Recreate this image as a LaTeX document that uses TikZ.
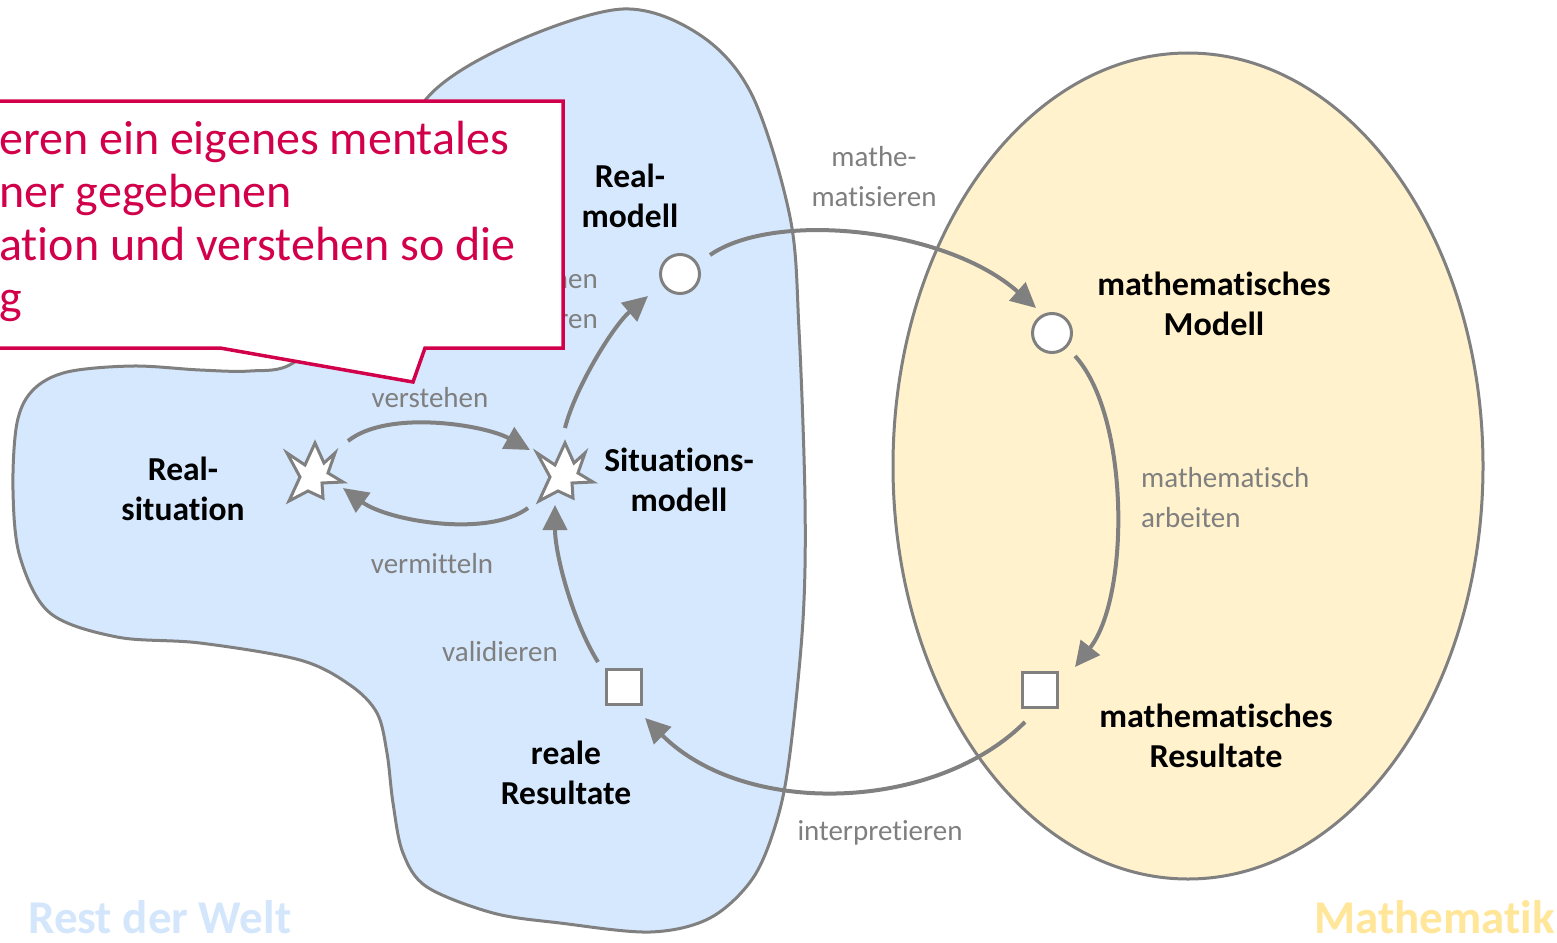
\documentclass[tikz,border=0pt]{standalone}
\usepackage{fontspec}
\setmainfont{Carlito}[Ligatures=NoCommon]
\usetikzlibrary{arrows.meta,calc}
\definecolor{worldfill}{HTML}{D6E8FD}
\definecolor{mathfill}{HTML}{FFF2CC}
\definecolor{edgegray}{HTML}{808080}
\definecolor{labelgray}{HTML}{7F7F7F}
\definecolor{alertred}{RGB}{210,0,75}
\definecolor{worldtitle}{HTML}{D4E6FC}
\definecolor{mathtitle}{HTML}{FFE699}
\tikzset{
  areaedge/.style={draw=edgegray, line width=3pt},
  flowarrow/.style={draw=edgegray, line width=4pt, -{Triangle[length=25pt,width=24pt]}},
  burstspot/.style={circle, minimum size=56pt, inner sep=0pt},
  stnode/.style={circle, draw=edgegray, fill=white, line width=3pt, minimum size=39pt, inner sep=0pt},
  resbox/.style={rectangle, draw=edgegray, fill=white, line width=3pt, minimum size=35pt, inner sep=0pt},
  boldlabel/.style={font=\fontsize{33.5}{40}\selectfont\bfseries, align=center, inner sep=0pt},
  verblabel/.style={text=labelgray, font=\fontsize{29}{40}\selectfont, align=center, inner sep=0pt},
  spark/.pic={\draw[draw=edgegray, fill=white, line width=3pt, line join=miter]
    (-28,-19) -- (-10,-7) -- (0,-29) -- (9,-9) -- (20,-19) -- (13,1) -- (28,10)
    -- (7,11) -- (8,26) -- (-7,19) -- (-26,29) -- (-15,5) -- cycle;}
}
\begin{document}
\begin{tikzpicture}[x=1pt,y=-1pt]
\useasboundingbox (0,0) rectangle (1557,942);
\fill[white] (0,0) rectangle (1557,942);
\clip (0,0) rectangle (1557,942);

% the two worlds
\draw[areaedge, fill=mathfill] (1188,466) ellipse [x radius=295, y radius=413];
\draw[areaedge, fill=worldfill] plot[smooth cycle, tension=0.55] coordinates {
  (427,98) (513,43) (623,9) (700,35) (752,95) (790,217)
  (799,330) (805,500) (803,620) (790,753) (777,820) (753,878) (710,918)
  (650,932) (560,923) (493,913) (427,887) (403,853) (393,803) (387,753)
  (377,713) (350,685) (300,660) (200,643) (117,637) (50,613) (20,557)
  (13,490) (17,423) (33,390) (67,372) (133,366) (200,370) (250,371)
  (293,363) (345,310) (385,190)};

% stations of the cycle
\node[burstspot] (rs) at (315,472) {};
\node[burstspot] (sm) at (565,472) {};
\node[stnode] (rm) at (680,274) {};
\node[stnode] (mm) at (1052,333) {};
\node[resbox] (rr) at (624,687) {};
\node[resbox] (mr) at (1040,690) {};
\pic at (rs) {spark};
\pic at (sm) {spark};

% transitions
\draw[flowarrow] ($(rs)+(33,-31)$) .. controls +(40,-32) and +(-45,-25) .. ($(sm)+(-35,-22)$);
\draw[flowarrow] ($(sm)+(-37,36)$) .. controls +(-40,30) and +(45,33) .. ($(rs)+(28,16)$);
\draw[flowarrow] ($(sm)+(0,-44)$) .. controls +(10,-40) and +(-35,30) .. ($(rm)+(-32,22)$);
\draw[flowarrow] ($(rm)+(30,-19)$) .. controls +(65,-45) and +(-90,-80) .. ($(mm)+(-16,-25)$);
\draw[flowarrow] ($(mm)+(23,23)$) .. controls +(55,60) and +(55,-70) .. ($(mr)+(35,-23)$);
\draw[flowarrow] ($(mr)+(-15,32)$) .. controls +(-90,90) and +(100,100) .. ($(rr)+(21,31)$);
\draw[flowarrow] ($(rr)+(-26,-25)$) .. controls +(-25,-40) and +(0,50) .. ($(sm)+(-10,33)$);

% names of the transitions
\node[verblabel] (l-verst) at (430,398) {verstehen};
\node[verblabel] (l-vermi) at (432,564) {vermitteln};
\node[verblabel, align=right, anchor=east] (l-vereinf) at (598,299) {vereinfachen\\strukturieren};
\node[verblabel] (l-mathe) at (874,177) {mathe-\\matisieren};
\node[verblabel, align=left, anchor=west] (l-arb) at (1141,498) {mathematisch\\arbeiten};
\node[verblabel] (l-interp) at (880,833) {interpretieren};
\node[verblabel] (l-valid) at (500,652) {validieren};

% names of the stations
\node[boldlabel] (t-rs) at (183,489) {Real-\\situation};
\node[boldlabel] (t-sm) at (679,480) {Situations-\\modell};
\node[boldlabel] (t-rm) at (630,196) {Real-\\modell};
\node[boldlabel] (t-rr) at (566,773) {reale\\Resultate};
\node[boldlabel, xscale=1.02] (t-mm) at (1214,304) {mathematisches\\Modell};
\node[boldlabel, xscale=1.02] (t-mr) at (1216,736) {mathematisches\\Resultate};

% callout
\draw[draw=alertred, fill=white, line width=3.5pt, line join=miter]
  (-10,101) -- (563,101) -- (563,348) -- (425,348) -- (413,382) -- (220,348) -- (-10,348) -- cycle;
\node[text=alertred, font=\fontsize{48}{53}\selectfont, align=left, anchor=north west, inner sep=0pt]
  (callout) at (-1,121) {eren ein eigenes mentales\\ner gegebenen\\ation und verstehen so die\\g};

% names of the worlds
\node[text=worldtitle, font=\fontsize{47}{53}\selectfont\bfseries, anchor=base west, inner sep=0pt] (w-rest) at (28,933) {Rest der Welt};
\node[text=mathtitle, font=\fontsize{47}{53}\selectfont\bfseries, anchor=base east, inner sep=0pt] (w-math) at (1555,933) {Mathematik};
\end{tikzpicture}
\end{document}
